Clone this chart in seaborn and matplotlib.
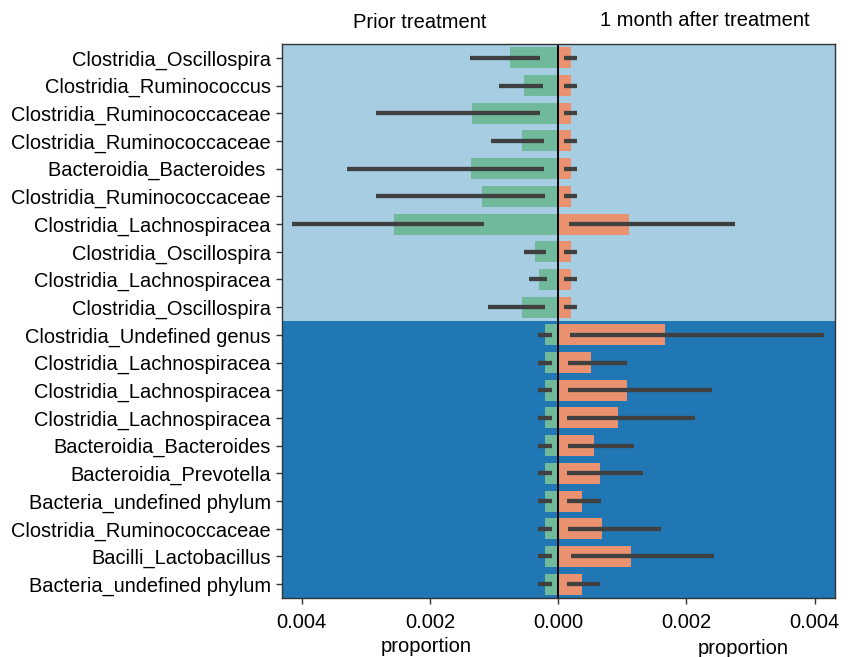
import numpy as np
import pandas as pd
import matplotlib
matplotlib.use("Agg")
import matplotlib.pyplot as plt
from matplotlib.ticker import FuncFormatter
import seaborn as sns

# ---------------- data ----------------
taxa = [
    "Clostridia_Oscillospira",
    "Clostridia_Ruminococcus",
    "Clostridia_Ruminococcaceae",
    "Clostridia_Ruminococcaceae",
    "Bacteroidia_Bacteroides ",
    "Clostridia_Ruminococcaceae",
    "Clostridia_Lachnospiracea",
    "Clostridia_Oscillospira",
    "Clostridia_Lachnospiracea",
    "Clostridia_Oscillospira",
    "Clostridia_Undefined genus",
    "Clostridia_Lachnospiracea",
    "Clostridia_Lachnospiracea",
    "Clostridia_Lachnospiracea",
    "Bacteroidia_Bacteroides",
    "Bacteroidia_Prevotella",
    "Bacteria_undefined phylum",
    "Clostridia_Ruminococcaceae",
    "Bacilli_Lactobacillus",
    "Bacteria_undefined phylum",
]

# Prior treatment (plotted to the left)
prior_mean = [0.000755, 0.00054, 0.00134, 0.000557, 0.00136, 0.00119, 0.00256,
              0.000354, 0.000292, 0.000557,
              0.000198, 0.000198, 0.000198, 0.000198, 0.000198, 0.000198,
              0.000198, 0.000198, 0.00021, 0.000198]
prior_err_inner = [0.000286, 0.00024, 0.000286, 0.000224, 0.000224, 0.000203, 0.00115,
                   0.000188, 0.000172, 0.000203,
                   0.000094, 0.000094, 0.000094, 0.000094, 0.000094, 0.000094,
                   0.000094, 0.000094, 0.0001, 0.000094]
prior_err_outer = [0.00137, 0.00092, 0.00284, 0.00105, 0.00329, 0.00284, 0.00415,
                   0.000536, 0.000448, 0.00109,
                   0.00031, 0.00031, 0.00031, 0.00031, 0.00031, 0.00031,
                   0.00031, 0.00031, 0.00032, 0.00031]

# 1 month after treatment (plotted to the right)
after_mean = [0.000196, 0.000196, 0.000196, 0.000196, 0.000196, 0.000196, 0.00111,
              0.000196, 0.000196, 0.000196,
              0.00166, 0.000516, 0.00107, 0.000932, 0.000552, 0.000656,
              0.000375, 0.000677, 0.00114, 0.00037]
after_err_inner = [0.000095, 0.000095, 0.000095, 0.000095, 0.000095, 0.000095, 0.000168,
                   0.000095, 0.000095, 0.000095,
                   0.000177, 0.000146, 0.000146, 0.000135, 0.000151, 0.000141,
                   0.000141, 0.000146, 0.000198, 0.000141]
after_err_outer = [0.0003, 0.0003, 0.0003, 0.0003, 0.0003, 0.0003, 0.00276,
                   0.0003, 0.0003, 0.0003,
                   0.00415, 0.00108, 0.0024, 0.00214, 0.00118, 0.00132,
                   0.000661, 0.00161, 0.00243, 0.000651]

x_ticks = [-0.004, -0.002, 0.0, 0.002, 0.004]
group_split = 10  # first 10 rows: light background, rest: dark background

# ---------------- style ----------------
sns.set_style("ticks")
plt.rcParams["font.family"] = ["Liberation Sans", "DejaVu Sans"]
plt.rcParams["text.color"] = "black"
plt.rcParams["axes.labelcolor"] = "black"
plt.rcParams["xtick.color"] = "black"
plt.rcParams["ytick.color"] = "black"

LIGHT_BG = "#a6cde2"
DARK_BG = "#2077b4"
GREEN = "#71b99b"
SALMON = "#ea9270"
ERR = "#404040"

n = len(taxa)
rows = [str(i) for i in range(n)]
df = pd.DataFrame({
    "row": rows,
    "prior": -np.array(prior_mean),
    "after": np.array(after_mean),
})

fig = plt.figure(figsize=(8.56, 6.57), dpi=100)
ax = fig.add_axes([0.3294, 0.0898, 0.6461, 0.8432])

# backgrounds
ax.axhspan(-0.5, group_split - 0.5, color=LIGHT_BG, zorder=0, lw=0)
ax.axhspan(group_split - 0.5, n - 0.5, color=DARK_BG, zorder=0, lw=0)

sns.barplot(data=df, x="prior", y="row", order=rows, orient="h", color=GREEN,
            saturation=1, width=0.76, errorbar=None, linewidth=0, ax=ax, zorder=2)
sns.barplot(data=df, x="after", y="row", order=rows, orient="h", color=SALMON,
            saturation=1, width=0.76, errorbar=None, linewidth=0, ax=ax, zorder=2)

ypos = np.arange(n)
ax.hlines(ypos, -np.array(prior_err_outer), -np.array(prior_err_inner),
          color=ERR, lw=3.1, zorder=3)
ax.hlines(ypos, np.array(after_err_inner), np.array(after_err_outer),
          color=ERR, lw=3.1, zorder=3)

ax.axvline(0, color="black", lw=1.4, zorder=4)

ax.set_xlim(-0.00431, 0.00432)
ax.set_ylim(n - 0.5, -0.5)
ax.set_xticks(x_ticks)
ax.xaxis.set_major_formatter(FuncFormatter(lambda v, _: f"{abs(v):.3f}"))
ax.set_yticks(ypos)
ax.set_yticklabels(taxa)
ax.set_xlabel("")
ax.set_ylabel("")
ax.tick_params(axis="y", labelsize=14.4, length=4, width=1, pad=4,
               color="#333333", labelcolor="black")
ax.tick_params(axis="x", labelsize=14.5, length=4, width=1, pad=7,
               color="#333333", labelcolor="black")
for s in ax.spines.values():
    s.set_visible(True)
    s.set_color("#333333")
    s.set_linewidth(1.0)
    s.set_zorder(5)

fig.text(420 / 856, 1 - 23 / 657, "Prior treatment", ha="center", va="center",
         fontsize=14.5, color="black")
fig.text(705 / 856, 1 - 20 / 657, "1 month after treatment", ha="center", va="center",
         fontsize=14.5, color="black")
fig.text(426 / 856, 1 - 646 / 657, "proportion", ha="center", va="center",
         fontsize=14.5, color="black")
fig.text(743 / 856, 1 - 649 / 657, "proportion", ha="center", va="center",
         fontsize=14.5, color="black")

fig.savefig("out.png", dpi=100)
